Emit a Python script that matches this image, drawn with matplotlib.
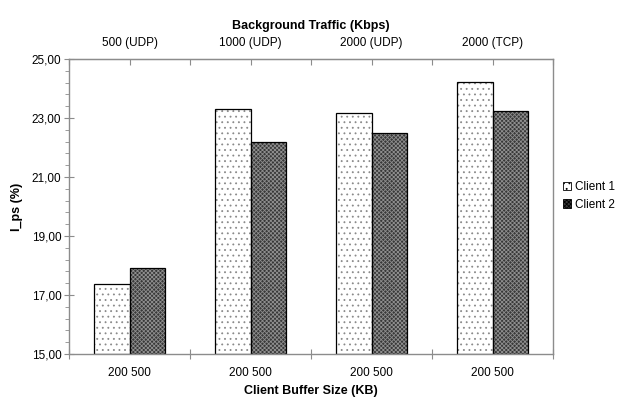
import numpy as np
import matplotlib
matplotlib.use('Agg')
import matplotlib.pyplot as plt
from matplotlib.ticker import FuncFormatter, FixedLocator
from matplotlib.patches import Patch

plt.rcParams['font.family'] = ['Liberation Sans', 'DejaVu Sans']
plt.rcParams['hatch.linewidth'] = 0.6

# 데이터
traffic = ['500 (UDP)', '1000 (UDP)', '2000 (UDP)', '2000 (TCP)']
buffer_labels = ['200 500', '200 500', '200 500', '200 500']
client1 = [17.36, 23.31, 23.17, 24.21]
client2 = [17.92, 22.18, 22.48, 23.24]

axis_grey = '#8c8c8c'
c1_face, c1_hatch = '#ffffff', '#8a8a8a'
c2_face, c2_hatch = '#383838', '#8e8e8e'

fig = plt.figure(figsize=(6.21, 4.05), dpi=100)
ax = fig.add_axes([69 / 621, 51 / 405, 484 / 621, 295 / 405])

x = np.arange(len(traffic))
w = 0.29
base = 15

# 막대 (무늬 먼저, 테두리는 따로)
ax.bar(x - w / 2, np.array(client1) - base, w, bottom=base, color=c1_face,
       edgecolor=c1_hatch, hatch='...', linewidth=0)
ax.bar(x + w / 2, np.array(client2) - base, w, bottom=base, color=c2_face,
       edgecolor=c2_hatch, hatch='xxxxxxxx', linewidth=0)
ax.bar(x - w / 2, np.array(client1) - base, w, bottom=base, fill=False,
       edgecolor='black', linewidth=0.9)
ax.bar(x + w / 2, np.array(client2) - base, w, bottom=base, fill=False,
       edgecolor='black', linewidth=0.9)

ax.set_xlim(-0.5, 3.5)
ax.set_ylim(15, 25)

for s in ax.spines.values():
    s.set_color(axis_grey)
    s.set_linewidth(1.0)

# y축
ax.yaxis.set_major_locator(FixedLocator(np.arange(15, 25.1, 2)))
ax.yaxis.set_minor_locator(FixedLocator(np.arange(15, 25.01, 0.4)))
ax.yaxis.set_major_formatter(FuncFormatter(lambda v, p: f'{v:.2f}'.replace('.', ',')))
ax.tick_params(axis='y', which='major', direction='inout', length=7, color=axis_grey,
               labelsize=8.5, pad=2)
ax.tick_params(axis='y', which='minor', direction='out', length=3, color=axis_grey)
ax.set_ylabel('I_ps (%)', fontsize=9, fontweight='bold', labelpad=6)

# 아래 x축: 경계 눈금 + 버퍼 크기 라벨
ax.set_xticks(np.arange(-0.5, 4, 1))
ax.set_xticklabels([])
ax.set_xticks(x, minor=True)
ax.set_xticklabels(buffer_labels, minor=True)
ax.tick_params(axis='x', which='major', direction='inout', length=7, color=axis_grey)
ax.tick_params(axis='x', which='minor', length=0, labelsize=8.5, pad=9)
ax.set_xlabel('Client Buffer Size (KB)', fontsize=9, fontweight='bold', labelpad=5)

# 위 x축: 배경 트래픽
top = ax.secondary_xaxis('top')
top.set_xticks(np.arange(-0.5, 4, 0.5))
top.set_xticklabels(['' if i % 2 == 0 else traffic[i // 2] for i in range(9)])
top.tick_params(direction='in', length=4, color=axis_grey, labelsize=8.5, pad=7)
top.spines['top'].set_color(axis_grey)
top.set_xlabel('Background Traffic (Kbps)', fontsize=9, fontweight='bold', labelpad=6)

# 범례
handles = [Patch(facecolor=c1_face, edgecolor='black', hatch='...', linewidth=0.6),
           Patch(facecolor=c2_face, edgecolor='black', hatch='xxxxxxxx', linewidth=0.6)]
fig.legend(handles, ['Client 1', 'Client 2'], loc='center left',
           bbox_to_anchor=(563 / 621, 1 - 196 / 405), frameon=False, borderpad=0,
           borderaxespad=0, fontsize=8.5, handlelength=0.7, handleheight=0.7,
           handletextpad=0.3, labelspacing=0.45)

fig.savefig('out.png', dpi=100)
